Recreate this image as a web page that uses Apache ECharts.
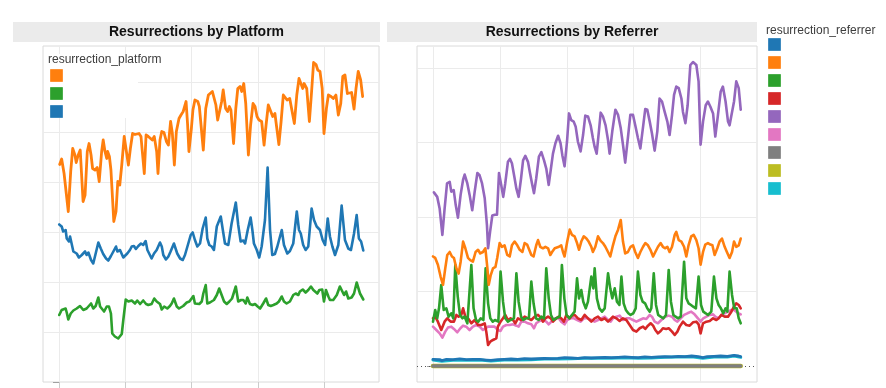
<!DOCTYPE html>
<html><head><meta charset="utf-8">
<script src="https://cdn.jsdelivr.net/npm/echarts@6/dist/echarts.min.js"></script>
<style>html,body{margin:0;padding:0;background:#fff}#c{width:886px;height:388px}</style>
</head><body><div id="c"></div><script>
// ---------- DATA (x = day index, y = count, arbitrary units) ----------
const panelTitles = ['Resurrections by Platform', 'Resurrections by Referrer'];
const legendTitles = ['resurrection_platform', 'resurrection_referrer'];
const dayTicks = [0, 30, 60, 90, 120];
const platformTicks = [0, 100, 200, 300, 400, 500, 600];
const referrerTicks = [0, 100, 200, 300, 400];

const platformOrange = [[0.3,435],[1.2,446],[2.3,417],[3.2,414],[4.2,341],[5.3,421],[6.2,467],[7.2,454],[7.8,439],[8.7,454],[9.6,464],[10.9,361],[11.8,374],[12.8,461],[13.6,477],[14.5,454],[15.2,427],[16.3,424],[17.3,429],[18.2,401],[19.3,461],[20.0,484],[20.8,461],[21.6,447],[22.0,461],[22.8,451],[23.5,424],[24.8,321],[25.8,341],[26.6,401],[27.5,394],[28.4,434],[29.5,491],[30.3,487],[31.4,434],[32.3,467],[33.3,497],[34.4,495],[35.3,494],[36.2,497],[37.1,491],[37.7,461],[38.6,417],[39.4,494],[40.4,491],[41.3,494],[42.2,484],[43.1,491],[44.2,461],[44.8,417],[45.7,484],[46.5,501],[47.5,499],[48.6,481],[49.5,474],[50.5,521],[51.3,497],[52.2,434],[53.1,501],[54.3,527],[55.2,534],[56.2,541],[57.5,561],[58.2,514],[58.8,461],[59.9,507],[60.6,544],[61.5,564],[62.8,561],[63.5,551],[64.3,554],[65.3,464],[66.4,547],[67.6,574],[69.4,581],[70.3,582],[71.0,554],[71.8,524],[72.7,521],[73.6,561],[74.3,584],[75.4,547],[76.3,541],[77.1,551],[77.8,544],[79.0,477],[80.0,547],[80.9,587],[81.9,591],[82.7,581],[83.6,597],[84.5,557],[85.7,454],[86.7,514],[87.8,557],[88.7,551],[89.6,531],[90.5,524],[91.7,521],[92.8,474],[93.7,514],[94.7,554],[95.6,557],[96.7,531],[97.7,537],[98.5,534],[99.5,475],[100.5,521],[101.5,574],[102.3,571],[103.2,564],[104.4,567],[105.3,567],[106.5,517],[107.6,574],[108.6,607],[109.5,611],[110.3,587],[110.9,597],[112.1,587],[113.3,521],[114.3,581],[115.2,639],[116.3,635],[117.1,624],[118.1,621],[119.1,587],[119.9,497],[121.0,547],[121.9,574],[123.1,571],[124.1,567],[125.3,574],[126.4,534],[127.5,557],[128.4,611],[129.4,614],[130.5,577],[131.4,577],[132.4,579],[133.5,546],[134.4,587],[135.4,621],[136.5,604],[137.4,571]];

const platformBlue = [[0.1,315],[1.2,311],[1.9,301],[3.0,304],[3.5,287],[4.5,281],[5.0,291],[5.7,277],[6.5,261],[8.0,257],[9.0,249],[10.3,254],[11.0,251],[11.8,261],[12.5,254],[13.3,259],[14.5,244],[15.5,237],[16.6,257],[17.8,279],[18.9,267],[20.0,256],[21.3,247],[22.3,243],[23.5,252],[24.6,261],[25.8,271],[26.4,261],[27.6,264],[28.4,256],[29.1,249],[29.9,249],[30.9,257],[32.1,264],[32.9,271],[33.9,272],[34.8,266],[35.9,272],[37.1,277],[38.1,274],[39.2,282],[40.0,264],[40.9,256],[41.9,247],[43.0,257],[44.2,264],[45.7,279],[46.5,271],[47.2,254],[48.4,245],[49.5,251],[50.5,261],[52.0,277],[52.8,281],[53.5,257],[54.8,247],[56.0,244],[57.0,254],[58.5,277],[59.6,294],[60.5,299],[61.5,284],[62.6,271],[63.8,277],[65.0,307],[66.4,329],[67.1,287],[68.0,274],[69.1,271],[70.1,264],[71.4,311],[73.2,331],[74.1,305],[75.1,277],[76.6,274],[78.1,317],[80.0,359],[81.1,314],[82.2,281],[83.4,283],[84.2,277],[85.4,304],[86.7,329],[87.5,304],[88.2,277],[89.5,264],[90.6,249],[91.7,271],[93.2,324],[94.4,429],[95.5,304],[96.5,254],[97.7,256],[98.8,271],[100.0,291],[100.8,304],[101.8,274],[103.3,257],[104.5,262],[106.0,277],[107.6,341],[108.6,304],[109.4,297],[110.5,274],[111.6,264],[112.8,271],[114.3,347],[115.4,324],[116.6,311],[118.1,304],[119.3,284],[120.4,274],[121.6,327],[122.6,291],[123.7,271],[124.9,254],[126.4,274],[127.9,353],[129.4,284],[130.9,267],[132.1,264],[133.5,297],[134.7,334],[135.7,287],[136.7,281],[137.7,263]];

const platformGreen = [[0.1,134],[1.2,144],[1.9,141],[3.0,147],[3.5,139],[4.2,125],[5.3,137],[6.5,143],[8.0,147],[9.5,152],[10.3,156],[11.0,144],[12.5,147],[13.3,147],[14.5,157],[15.5,147],[16.6,152],[17.8,169],[18.6,151],[19.3,147],[20.4,141],[21.6,151],[22.6,151],[23.5,137],[24.1,97],[25.3,91],[26.8,87],[28.4,96],[29.1,124],[30.2,165],[31.4,161],[32.9,163],[34.4,157],[35.4,163],[36.7,156],[38.1,163],[39.4,156],[40.4,154],[41.9,156],[43.1,167],[44.2,161],[45.7,156],[46.5,145],[47.6,151],[49.0,147],[50.2,152],[51.0,157],[52.0,167],[53.3,151],[54.3,147],[55.1,145],[56.2,152],[57.8,159],[59.0,161],[60.0,167],[60.8,172],[61.5,157],[62.3,154],[63.5,156],[64.6,161],[65.3,177],[66.4,194],[67.1,157],[68.3,159],[69.1,156],[70.1,164],[71.4,174],[72.5,187],[73.6,174],[74.7,161],[75.9,156],[77.1,161],[78.3,167],[80.0,191],[81.1,161],[82.4,164],[83.4,164],[84.5,157],[85.2,169],[86.4,156],[87.6,154],[88.7,156],[89.9,151],[91.0,147],[92.4,157],[93.7,167],[94.7,154],[95.8,152],[97.0,154],[98.5,157],[99.5,161],[100.8,171],[101.8,161],[103.0,157],[104.5,161],[106.0,174],[107.1,177],[108.3,174],[109.0,181],[110.3,185],[111.6,179],[112.8,184],[114.0,191],[115.1,184],[115.8,187],[116.9,177],[117.8,184],[119.1,185],[119.9,161],[120.8,184],[121.9,171],[122.6,164],[124.1,164],[125.7,174],[127.1,191],[127.9,191],[129.0,174],[129.9,181],[130.9,167],[132.4,169],[133.5,177],[134.7,199],[136.2,177],[137.7,165]];

const referrerPurple = [[0.4,233],[1.9,227],[3.0,211],[4.2,176],[5.2,211],[6.3,245],[7.5,247],[8.2,234],[9.3,236],[10.2,216],[11.2,199],[12.4,230],[13.5,250],[14.2,257],[15.4,245],[16.4,230],[17.6,209],[18.7,234],[19.9,259],[20.9,256],[22.0,245],[23.2,225],[24.2,189],[24.7,158],[25.6,180],[26.6,202],[27.7,203],[28.7,203],[29.6,259],[30.6,243],[31.5,227],[32.4,245],[33.6,274],[34.5,278],[35.4,272],[36.6,252],[37.4,238],[38.4,227],[39.5,252],[40.4,276],[41.4,282],[42.6,274],[43.5,259],[44.4,245],[45.3,232],[46.3,252],[47.5,281],[48.6,287],[49.8,276],[50.8,265],[51.9,243],[52.8,263],[53.8,285],[54.9,299],[56.1,309],[57.2,299],[58.0,283],[59.0,268],[60.1,301],[61.0,339],[62.0,330],[63.1,328],[64.0,321],[65.0,301],[66.2,288],[67.3,310],[68.3,336],[69.5,335],[70.7,323],[71.7,306],[72.5,294],[73.4,285],[74.4,315],[75.2,340],[76.2,335],[77.4,323],[78.5,303],[79.2,285],[80.4,315],[81.8,344],[83.0,337],[84.2,319],[85.2,297],[86.2,273],[87.4,306],[88.5,337],[89.7,337],[90.7,323],[91.9,306],[93.0,292],[94.2,321],[95.2,345],[96.1,344],[97.2,328],[98.2,312],[99.4,289],[100.6,315],[101.6,359],[102.7,355],[103.9,341],[105.1,328],[106.1,310],[107.2,337],[108.1,364],[109.1,375],[110.2,373],[111.4,359],[112.1,341],[113.2,326],[114.2,350],[115.4,404],[116.6,408],[118.1,404],[119.1,382],[120.0,297],[121.1,328],[122.3,350],[123.3,355],[124.4,348],[125.6,339],[126.6,308],[127.8,337],[129.0,368],[130.0,375],[131.2,355],[132.3,328],[133.0,323],[133.8,321],[135.0,355],[136.0,382],[137.1,373],[138.0,344]];

const referrerOrange = [[0,147],[1.0,145],[2.2,136],[3.4,120],[4.5,109],[5.5,131],[6.4,149],[7.5,153],[8.5,147],[9.4,145],[10.5,131],[11.5,124],[12.4,140],[13.5,167],[14.5,158],[15.7,145],[16.7,142],[17.9,140],[19.1,153],[20.2,156],[21.2,151],[22.4,153],[23.5,158],[24.4,131],[25.0,109],[25.9,122],[26.9,131],[28.0,133],[28.8,145],[29.9,165],[30.9,160],[32.1,162],[33.3,149],[34.4,147],[35.4,162],[36.6,167],[37.8,162],[38.9,156],[40.1,153],[41.1,165],[42.2,163],[43.0,162],[44.1,149],[45.1,147],[46.3,162],[47.1,169],[48.1,160],[49.3,158],[50.4,160],[51.6,158],[52.6,149],[53.4,153],[54.6,158],[55.3,160],[56.5,160],[57.5,162],[58.3,153],[59.0,147],[60.2,167],[61.3,183],[62.3,176],[63.5,174],[64.6,165],[65.5,156],[66.5,167],[67.6,174],[68.8,171],[69.8,167],[71.0,160],[71.7,153],[72.8,160],[74.0,174],[75.2,168],[76.2,165],[77.3,160],[78.5,153],[79.5,147],[80.7,162],[81.8,174],[83.0,183],[84.2,196],[85.2,167],[86.2,151],[87.4,153],[88.6,160],[89.7,162],[90.7,153],[91.9,145],[93.0,153],[94.2,160],[95.2,165],[96.4,162],[97.5,156],[98.7,147],[99.7,153],[100.9,160],[102.1,165],[103.1,160],[104.2,158],[105.1,160],[106.1,153],[107.2,160],[108.4,176],[109.1,180],[110.2,169],[111.4,167],[112.6,160],[113.6,147],[114.6,162],[115.8,174],[116.9,176],[118.1,169],[119.1,158],[120.0,136],[121.1,153],[122.1,163],[123.3,165],[124.4,163],[125.3,162],[126.3,149],[127.5,158],[128.5,167],[129.6,171],[130.8,160],[131.8,153],[133.0,145],[134.1,153],[135.0,167],[136.0,160],[137.1,162],[138.0,171]];

const referrerGreen = [[0,59.5],[1.0,75.2],[1.9,64.0],[2.7,77.4],[3.7,108.7],[4.8,75.2],[6.0,77.4],[7.0,66.2],[8.2,70.7],[9.1,64.0],[10.0,135.6],[11.1,93.1],[12.1,68.5],[13.2,64.0],[14.2,66.2],[15.4,57.3],[16.1,59.5],[17.2,135.6],[18.2,77.4],[19.3,61.7],[20.3,59.5],[21.4,64.0],[22.6,61.7],[23.6,131.1],[24.7,84.1],[25.7,64.0],[26.8,59.5],[27.8,61.7],[29.3,59.5],[30.3,126.6],[31.4,86.3],[32.4,64.0],[33.6,59.5],[34.8,61.7],[36.3,64.0],[37.4,124.4],[38.4,86.3],[39.5,66.2],[40.5,61.7],[41.7,64.0],[43.0,64.0],[44.1,113.2],[45.1,84.1],[46.2,64.0],[47.4,61.7],[48.6,66.2],[49.8,64.0],[50.8,131.1],[51.9,90.8],[52.9,68.5],[54.0,61.7],[55.2,64.0],[56.8,66.2],[57.8,135.6],[58.9,90.8],[59.9,68.5],[61.1,64.0],[62.3,68.5],[63.5,72.9],[64.6,117.7],[65.5,90.8],[66.5,102.0],[67.4,86.3],[68.5,77.4],[69.5,86.3],[71.0,119.9],[71.9,104.2],[72.5,131.1],[73.5,90.8],[74.6,77.4],[75.8,72.9],[77.0,77.4],[78.5,124.4],[79.5,104.2],[80.4,90.8],[81.5,104.2],[82.5,86.3],[83.6,81.9],[84.5,119.9],[85.5,84.1],[86.5,75.2],[87.6,70.7],[88.6,68.5],[89.8,70.7],[90.9,77.4],[91.9,126.6],[93.0,95.3],[94.0,86.3],[95.1,84.1],[96.1,77.4],[97.2,72.9],[97.9,77.4],[99.0,124.4],[100.0,81.9],[101.0,68.5],[102.1,66.2],[103.3,64.0],[104.5,68.5],[105.7,128.9],[106.7,86.3],[107.8,68.5],[108.8,66.2],[109.9,64.0],[111.1,66.2],[112.6,140.0],[113.6,90.8],[114.6,84.1],[115.7,81.9],[116.7,79.6],[117.9,77.4],[119.1,119.9],[120.2,81.9],[121.2,72.9],[122.3,70.7],[123.3,68.5],[124.8,72.9],[126.0,119.9],[127.1,90.8],[128.1,81.9],[129.1,77.4],[130.2,70.7],[131.2,77.4],[132.0,72.9],[133.0,126.6],[134.1,95.3],[135.1,77.4],[136.2,77.4],[137.1,64.0],[138.0,57.3]];

const referrerRed = [[0,64.0],[1.0,66.2],[2.2,59.5],[3.7,48.3],[5.2,59.5],[6.4,64.0],[7.9,59.5],[9.4,59.5],[10.5,68.5],[11.5,66.2],[12.7,68.5],[13.5,77.4],[14.5,66.2],[15.7,64.0],[17.2,57.3],[18.7,61.7],[20.2,55.0],[21.7,55.0],[23.2,57.3],[23.9,46.1],[24.7,28.2],[25.7,32.7],[26.9,34.9],[28.4,37.1],[29.1,52.8],[30.3,59.5],[31.4,64.0],[32.4,68.5],[33.6,61.7],[34.8,64.0],[35.9,61.7],[36.9,57.3],[38.1,64.0],[39.6,61.7],[41.1,66.2],[42.6,64.0],[44.1,61.7],[45.6,66.2],[47.1,68.5],[48.6,64.0],[49.3,59.5],[50.4,64.0],[51.6,66.2],[52.8,64.0],[53.8,59.5],[55.3,64.0],[56.4,66.2],[57.5,64.0],[58.7,59.5],[59.8,68.5],[61.3,64.0],[62.3,67.6],[63.5,68.5],[65.0,64.0],[66.5,61.7],[68.0,68.5],[69.5,64.0],[71.0,59.5],[72.5,64.0],[74.0,66.2],[75.5,61.7],[77.0,64.0],[78.5,59.5],[79.7,63.1],[80.7,66.2],[82.2,64.0],[83.7,60.4],[85.2,64.0],[86.7,61.7],[88.2,55.0],[89.7,48.3],[91.2,46.1],[92.7,50.6],[94.2,52.8],[95.2,49.7],[96.4,54.1],[97.6,57.3],[98.7,54.1],[99.7,48.3],[100.9,43.8],[102.1,47.0],[103.1,50.6],[104.6,49.7],[105.7,50.6],[107.2,46.1],[108.4,41.6],[109.6,46.1],[110.6,52.8],[112.1,59.5],[113.6,55.0],[115.1,54.1],[116.6,58.6],[118.1,59.5],[119.1,55.9],[120.0,43.8],[121.1,57.3],[122.6,59.5],[124.1,60.4],[125.6,64.0],[127.1,61.7],[128.1,64.0],[129.3,68.5],[130.8,66.2],[132.3,66.2],[133.8,72.9],[135.0,79.6],[136.0,84.1],[137.1,81.9],[138.0,77.4]];

const referrerPink = [[0,52.8],[1.5,48.3],[3.0,43.8],[4.2,38.0],[5.5,46.1],[6.7,51.5],[8.2,52.8],[9.4,49.7],[10.9,45.2],[12.3,50.6],[13.5,54.1],[14.9,52.8],[16.4,48.3],[17.9,52.8],[19.4,55.0],[20.9,52.8],[22.4,48.3],[23.5,50.6],[24.7,52.8],[26.2,52.8],[27.6,52.8],[29.1,48.3],[30.3,47.0],[31.4,52.8],[32.9,55.0],[34.4,55.0],[35.9,55.9],[37.4,54.1],[38.4,52.8],[39.6,59.5],[41.1,59.5],[42.6,57.3],[44.1,55.9],[45.3,50.6],[46.3,57.3],[47.8,60.4],[49.3,61.7],[50.8,59.5],[51.9,55.9],[53.1,59.5],[54.6,64.0],[56.4,64.0],[57.5,59.5],[59.0,55.9],[60.2,61.7],[61.7,64.0],[63.2,64.0],[64.7,61.7],[66.2,59.5],[67.7,64.0],[69.2,64.0],[71.0,61.7],[72.5,59.5],[74.0,61.7],[75.5,64.0],[77.0,66.2],[78.5,61.7],[79.7,59.5],[80.7,64.0],[82.2,66.2],[83.7,67.6],[85.2,61.7],[86.7,64.0],[88.2,64.0],[89.7,61.7],[91.2,59.5],[92.7,61.7],[94.2,64.0],[95.7,63.1],[97.2,68.5],[98.2,66.2],[99.4,59.5],[100.9,57.3],[102.4,61.7],[104.2,66.2],[105.7,67.6],[107.2,66.2],[108.4,61.7],[109.6,59.5],[111.1,64.0],[112.6,68.5],[114.1,70.7],[115.8,72.9],[117.3,69.3],[118.8,64.0],[120.0,59.5],[121.2,64.0],[122.6,66.2],[124.1,68.5],[125.6,69.3],[126.6,66.2],[128.1,64.0],[129.3,68.5],[130.8,70.7],[132.3,72.9],[133.8,75.2],[135.0,75.2],[136.0,72.9],[137.1,70.7],[138.0,69.3]];

const referrerBlue = [[0,9.0],[3,8.5],[4,7.2],[6,8.8],[9,8.5],[12,9.4],[15,8.5],[18,9.0],[21,8.9],[24,8.0],[26,7.4],[29,8.5],[32,8.9],[35,9.4],[38,8.9],[41,9.8],[44,9.4],[47,9.8],[50,10.3],[53,9.8],[56,10.3],[59,11.2],[62,10.7],[65,10.3],[68,11.2],[71,10.7],[74,11.2],[77,11.6],[80,11.2],[83,11.6],[86,12.1],[89,11.6],[92,11.2],[95,12.1],[98,11.6],[101,12.1],[104,12.5],[107,12.1],[110,13.0],[113,12.5],[116,13.4],[119,12.5],[121,11.2],[123,12.5],[126,13.0],[129,13.4],[132,13.0],[135,14.3],[137,13.4],[138,12.5]];
const referrerCyan = [[0,8.0],[4,6.5],[9,7.6],[15,7.6],[21,8.0],[26,6.7],[32,8.0],[38,8.0],[44,8.5],[50,9.4],[56,9.4],[62,9.8],[68,10.3],[74,10.3],[80,10.3],[86,11.2],[92,10.3],[98,10.7],[104,11.6],[110,12.1],[116,12.5],[121,10.3],[126,12.1],[132,12.1],[135,13.4],[138,11.6]];
const referrerGray = [[0,0],[138,0]];
const referrerOlive = [[0,0],[138,0]];

const platformNames = [' ', '  ', '   '];
const referrerNames = ['\u2002', '\u2002\u2002', '\u2002\u2002\u2002', '\u2002\u2002\u2002\u2002', '\u2002\u2002\u2002\u2002\u2002', '\u2002\u2002\u2002\u2002\u2002\u2002', '\u2002\u2002\u2002\u2002\u2002\u2002\u2002', '\u2002\u2002\u2002\u2002\u2002\u2002\u2002\u2002', '\u2002\u2002\u2002\u2002\u2002\u2002\u2002\u2002\u2002'];

// ---------- STYLE ----------
const C = {blue:'#1f77b4', orange:'#ff7f0e', green:'#2ca02c', red:'#d62728', purple:'#9467bd', pink:'#e377c2', gray:'#7f7f7f', olive:'#bcbd22', cyan:'#17becf'};
const FONT = '"Liberation Sans", Arial, sans-serif';
const GRID_COLOR = '#ebebeb';

function line(name, data, color, xi, width, extra) {
  return Object.assign({
    type: 'line', name, data, xAxisIndex: xi, yAxisIndex: xi,
    showSymbol: false, symbol: 'none', smooth: false, z: 2,
    lineStyle: {color, width: width || 2.5, join: 'round', cap: 'round'},
    itemStyle: {color}, emphasis: {disabled: true}, silent: true
  }, extra || {});
}
function gridMarks(xi, yVals, withZeroDotted) {
  const d = dayTicks.map(v => ({xAxis: v}));
  yVals.forEach(v => d.push({yAxis: v}));
  if (withZeroDotted) d.push({yAxis: 0, lineStyle: {color: '#555', type: [1, 3], width: 1}});
  return {silent: true, symbol: 'none', z: 1, animation: false, label: {show: false},
    emphasis: {disabled: true}, lineStyle: {color: GRID_COLOR, width: 1, type: 'solid'}, data: d};
}
function legendData(names, colors) {
  return names.map((n, i) => ({name: n, itemStyle: {color: colors[i], borderColor: echarts.color.lift(colors[i], 0.15), borderWidth: 1}}));
}

const chart = echarts.init(document.getElementById('c'), null, {renderer: 'canvas'});
const platformColors = [C.orange, C.green, C.blue];
const referrerColors = [C.blue, C.orange, C.green, C.red, C.purple, C.pink, C.gray, C.olive, C.cyan];

const axisCommonX = {type: 'value', axisLine: {show: false}, axisLabel: {show: false}, splitLine: {show: false},
  axisTick: {show: true, customValues: dayTicks, length: 6, lineStyle: {color: '#cccccc'}}};

chart.setOption({
  animation: false,
  backgroundColor: '#ffffff',
  grid: [
    {left: 43, top: 46, width: 336, height: 336, show: true, borderColor: '#dadada', borderWidth: 1, backgroundColor: '#fff'},
    {left: 417, top: 46, width: 340, height: 336, show: true, borderColor: '#dadada', borderWidth: 1, backgroundColor: '#fff'}
  ],
  xAxis: [
    Object.assign({gridIndex: 0, min: -7.24, max: 144.8}, axisCommonX),
    Object.assign({gridIndex: 1, min: -7.17, max: 145.3}, axisCommonX)
  ],
  yAxis: [
    {gridIndex: 0, type: 'value', min: 0, max: 672, axisLine: {show: false}, axisLabel: {show: false}, splitLine: {show: false},
      axisTick: {show: true, customValues: platformTicks, length: 6, lineStyle: {color: '#a0a0a0'}}},
    {gridIndex: 1, type: 'value', min: -21.5, max: 429.5, axisLine: {show: false}, axisLabel: {show: false}, splitLine: {show: false},
      axisTick: {show: true, customValues: referrerTicks, length: 6, lineStyle: {color: '#a0a0a0'}}}
  ],
  legend: [
    {data: legendData(platformNames, platformColors), left: 50, top: 69, orient: 'vertical', icon: 'rect',
      itemWidth: 12, itemHeight: 12, itemGap: 5, padding: 0, selectedMode: false, formatter: () => '',
      textStyle: {fontSize: 10, lineHeight: 12}},
    {data: legendData(referrerNames, referrerColors), left: 768, top: 38, orient: 'vertical', icon: 'rect',
      itemWidth: 12, itemHeight: 12, itemGap: 5, padding: 0, selectedMode: false, formatter: () => '',
      textStyle: {fontSize: 10, lineHeight: 12}}
  ],
  graphic: [
    {type: 'rect', shape: {x: 13, y: 22, width: 367, height: 20}, style: {fill: '#ebebeb'}, silent: true},
    {type: 'rect', shape: {x: 387, y: 22, width: 370, height: 20}, style: {fill: '#ebebeb'}, silent: true},
    {type: 'text', x: 196.5, y: 32.5, style: {text: panelTitles[0], fontFamily: FONT, fontSize: 14, fontWeight: 'bold', fill: '#111', align: 'center', verticalAlign: 'middle'}, silent: true},
    {type: 'text', x: 572, y: 32.5, style: {text: panelTitles[1], fontFamily: FONT, fontSize: 14, fontWeight: 'bold', fill: '#111', align: 'center', verticalAlign: 'middle'}, silent: true},
    {type: 'rect', z: 3, shape: {x: 44, y: 54, width: 94, height: 64}, style: {fill: '#ffffff'}, silent: true},
    {type: 'text', z: 4, x: 48, y: 59.5, style: {text: legendTitles[0], fontFamily: FONT, fontSize: 12, fill: '#3d3d3d', align: 'left', verticalAlign: 'middle'}, silent: true},
    {type: 'text', z: 4, x: 766, y: 30.5, style: {text: legendTitles[1], fontFamily: FONT, fontSize: 12, fill: '#3d3d3d', align: 'left', verticalAlign: 'middle'}, silent: true}
  ],
  series: [
    line(platformNames[0], platformOrange, C.orange, 0, 2.8, {markLine: gridMarks(0, platformTicks.slice(1), false)}),
    line(platformNames[1], platformGreen, C.green, 0, 2.6),
    line(platformNames[2], platformBlue, C.blue, 0, 2.6),
    line(referrerNames[7], referrerOlive, C.olive, 1, 4.5, {markLine: gridMarks(1, referrerTicks.slice(1), true)}),
    line(referrerNames[6], referrerGray, C.gray, 1, 3.5),
    line(referrerNames[8], referrerCyan, C.cyan, 1, 3),
    line(referrerNames[0], referrerBlue, C.blue, 1, 2.8),
    line(referrerNames[5], referrerPink, C.pink, 1, 2.6),
    line(referrerNames[3], referrerRed, C.red, 1, 2.6),
    line(referrerNames[2], referrerGreen, C.green, 1, 2.6),
    line(referrerNames[1], referrerOrange, C.orange, 1, 2.6),
    line(referrerNames[4], referrerPurple, C.purple, 1, 2.6)
  ]
});
</script></body></html>
